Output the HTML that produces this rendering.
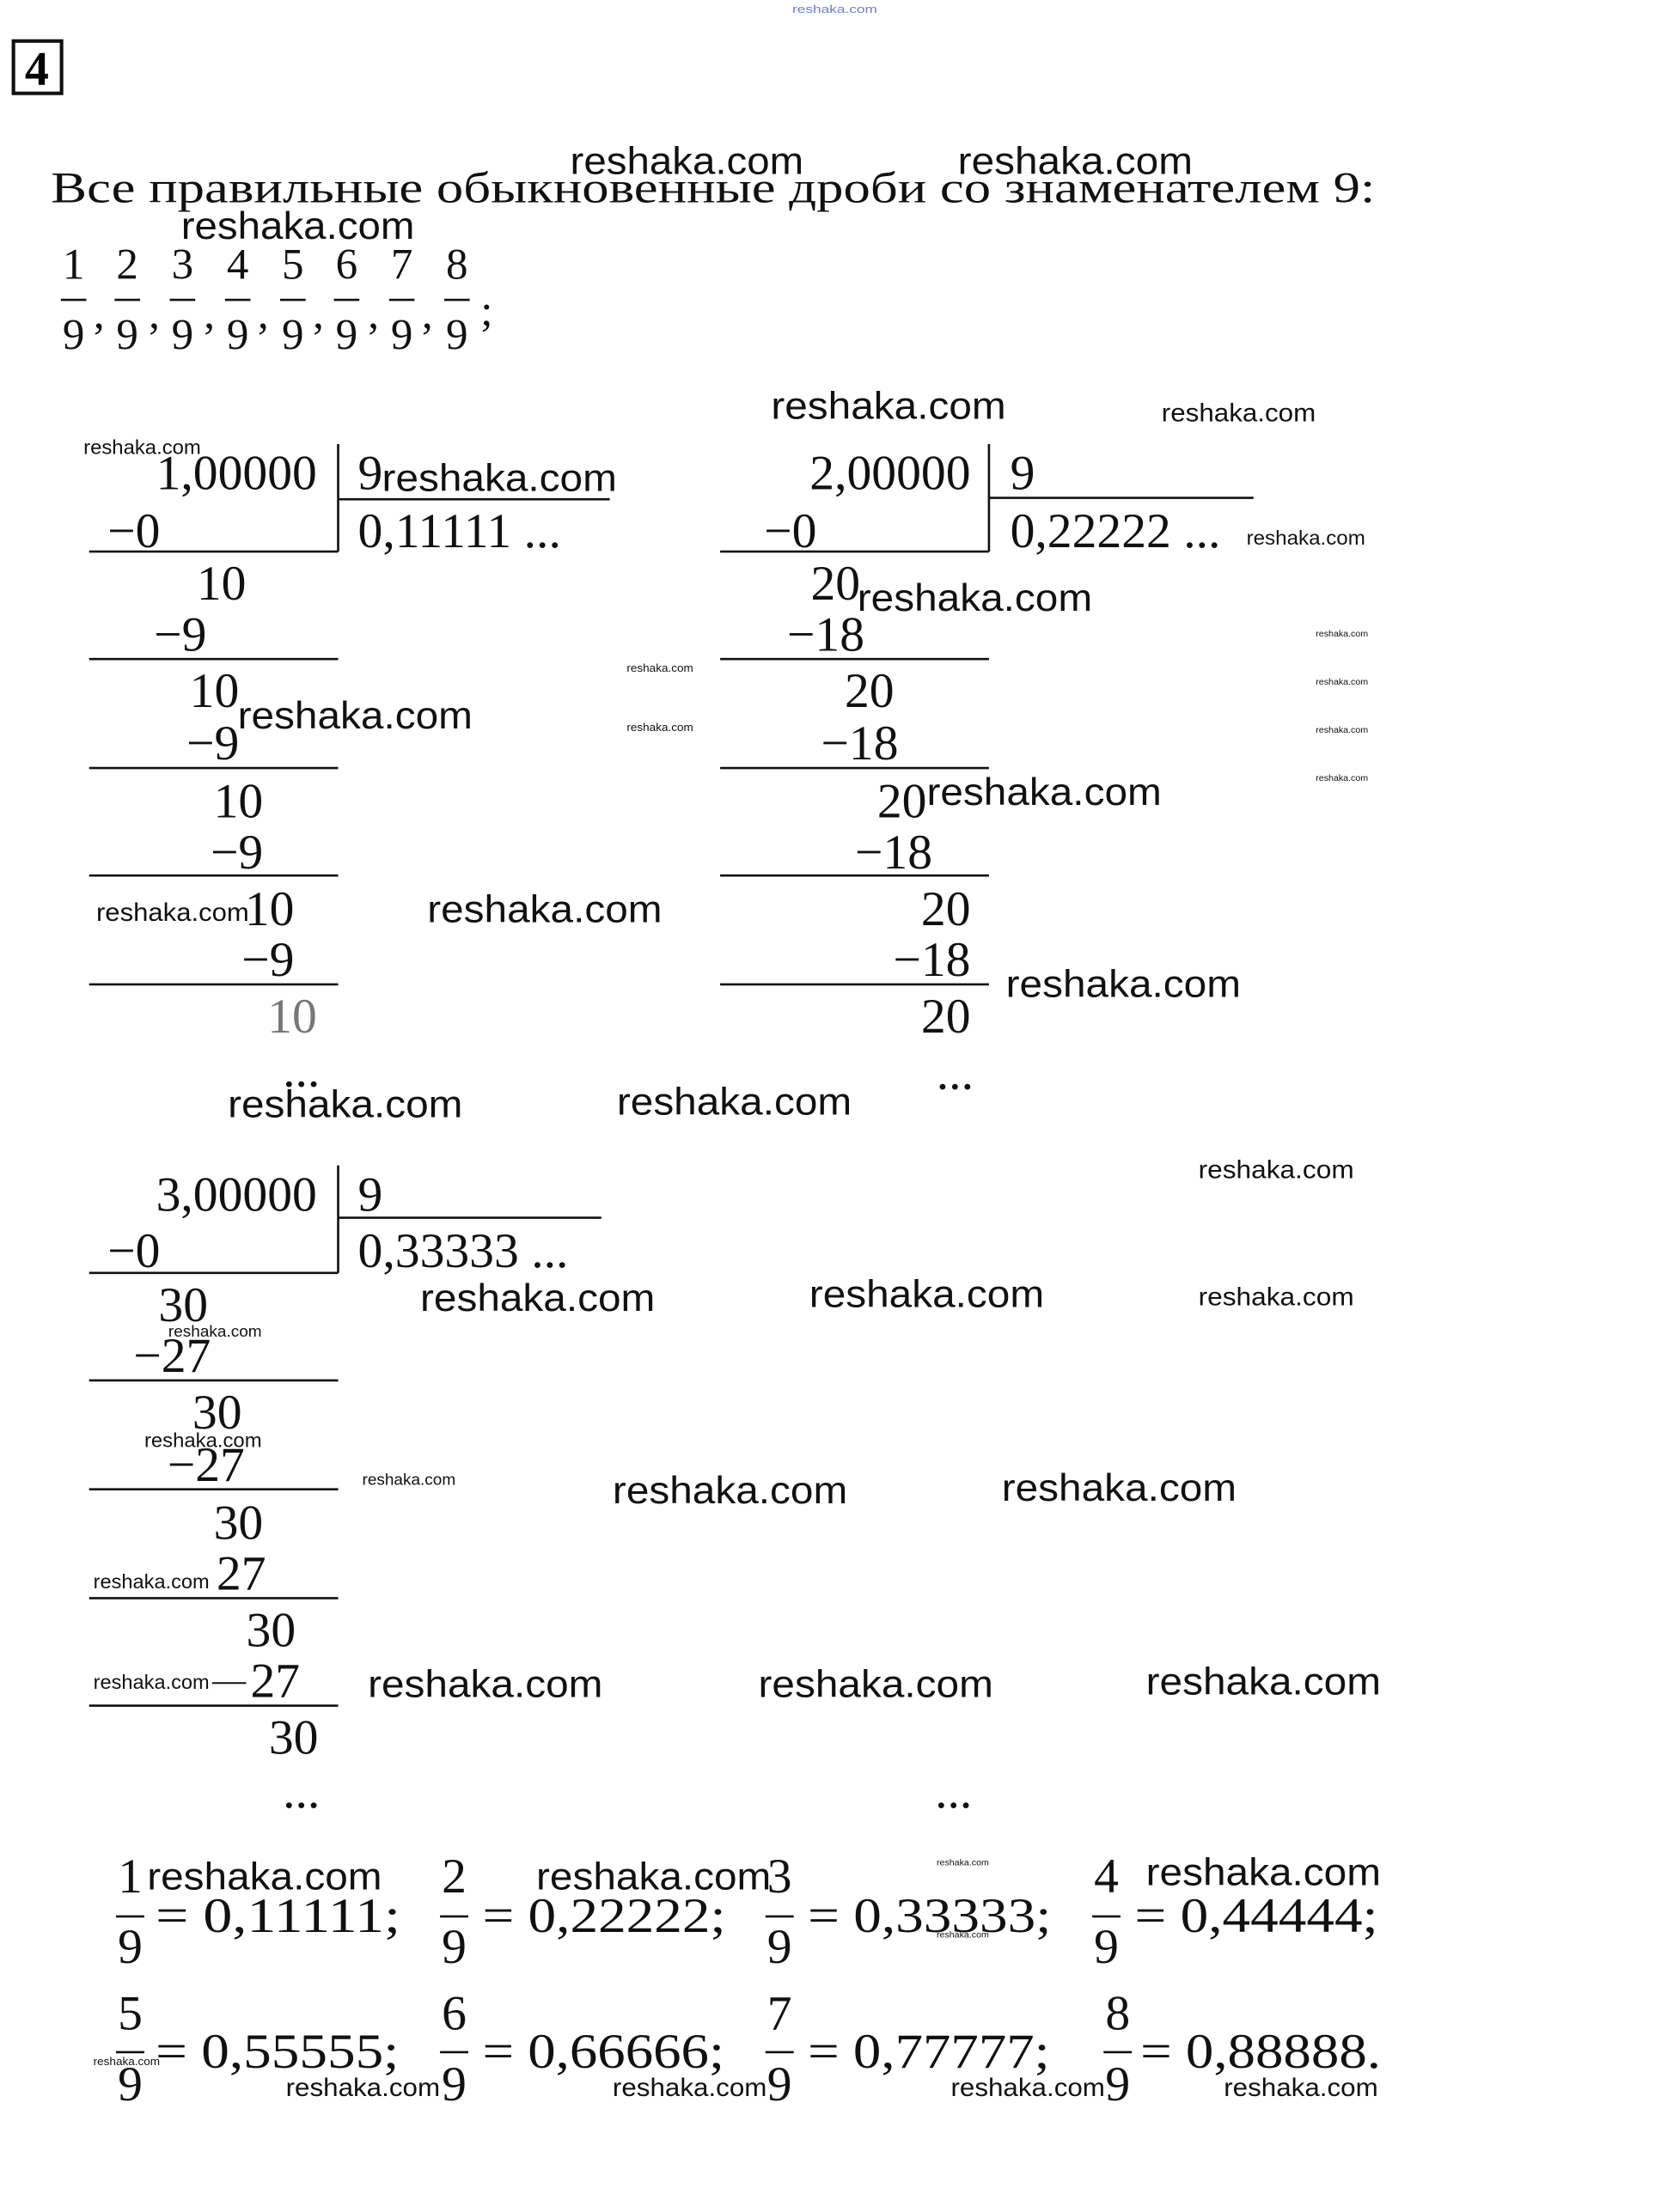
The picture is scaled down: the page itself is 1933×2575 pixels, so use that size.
<!DOCTYPE html>
<html><head><meta charset="utf-8"><style>
html,body{margin:0;padding:0;background:#fff;}
svg{display:block;}
.m{font-family:"Liberation Serif",serif;font-size:35px;fill:#111;}
.h{font-family:"Liberation Serif",serif;font-size:31px;fill:#111;}
.w{font-family:"Liberation Sans",sans-serif;fill:#111;}
line{stroke:#111;stroke-width:1.6;}
</style></head><body>
<svg width="1933" height="2575" viewBox="0 0 1174 1564" preserveAspectRatio="none" xmlns="http://www.w3.org/2000/svg">
<text x="560" y="9" class="w" style="font-size:8px;fill:#6a7fd0" textLength="60" lengthAdjust="spacingAndGlyphs">reshaka.com</text>
<rect x="9.5" y="29" width="34" height="37" fill="none" stroke="#111" stroke-width="2.5"/>
<text x="26" y="60" text-anchor="middle" style="font-family:'Liberation Serif',serif;font-weight:bold;font-size:34px">4</text>
<text x="36" y="143" class="h" textLength="936" lengthAdjust="spacingAndGlyphs">Все правильные обыкновенные дроби со знаменателем 9:</text>

<g class="m" style="font-size:31px" text-anchor="middle">
<text x="52" y="197">1</text><text x="90" y="197">2</text><text x="129" y="197">3</text><text x="168" y="197">4</text><text x="207" y="197">5</text><text x="245" y="197">6</text><text x="284" y="197">7</text><text x="323" y="197">8</text>
<text x="52" y="247">9</text><text x="90" y="247">9</text><text x="129" y="247">9</text><text x="168" y="247">9</text><text x="207" y="247">9</text><text x="245" y="247">9</text><text x="284" y="247">9</text><text x="323" y="247">9</text>
<text x="70" y="232">,</text><text x="109" y="232">,</text><text x="148" y="232">,</text><text x="186" y="232">,</text><text x="225" y="232">,</text><text x="264" y="232">,</text><text x="302" y="232">,</text><text x="344" y="230">;</text>
</g>
<g stroke="#111" stroke-width="2.5">
<line x1="43" y1="212" x2="61" y2="212"/><line x1="81" y1="212" x2="99" y2="212"/><line x1="120" y1="212" x2="138" y2="212"/><line x1="159" y1="212" x2="177" y2="212"/><line x1="198" y1="212" x2="216" y2="212"/><line x1="236" y1="212" x2="254" y2="212"/><line x1="275" y1="212" x2="293" y2="212"/><line x1="314" y1="212" x2="332" y2="212"/>
</g>

<!-- Division 1 -->
<g class="m">
<text x="224" y="346" text-anchor="end">1,00000</text>
<text x="253" y="346">9</text>
<text x="253" y="387">0,11111 ...</text>
<text x="76" y="387">−0</text>
<text x="174" y="424" text-anchor="end">10</text>
<text x="146" y="460" text-anchor="end">−9</text>
<text x="169" y="500" text-anchor="end">10</text>
<text x="169" y="537" text-anchor="end">−9</text>
<text x="186" y="578" text-anchor="end">10</text>
<text x="186" y="614" text-anchor="end">−9</text>
<text x="208" y="654" text-anchor="end">10</text>
<text x="208" y="690" text-anchor="end">−9</text>
<text x="224" y="730" text-anchor="end" style="fill:#777">10</text>
<text x="213" y="768" text-anchor="middle">...</text>
</g>
<line x1="239" y1="314" x2="239" y2="390"/><line x1="239" y1="353" x2="431" y2="353"/>
<line x1="63" y1="390" x2="239" y2="390"/><line x1="63" y1="466" x2="239" y2="466"/><line x1="63" y1="543" x2="239" y2="543"/><line x1="63" y1="619" x2="239" y2="619"/><line x1="63" y1="696" x2="239" y2="696"/>

<!-- Division 2 -->
<g class="m">
<text x="686" y="346" text-anchor="end">2,00000</text>
<text x="714" y="346">9</text>
<text x="714" y="387">0,22222 ...</text>
<text x="540" y="387">−0</text>
<text x="608" y="424" text-anchor="end">20</text>
<text x="611" y="460" text-anchor="end">−18</text>
<text x="632" y="500" text-anchor="end">20</text>
<text x="635" y="537" text-anchor="end">−18</text>
<text x="655" y="578" text-anchor="end">20</text>
<text x="659" y="614" text-anchor="end">−18</text>
<text x="686" y="654" text-anchor="end">20</text>
<text x="686" y="690" text-anchor="end">−18</text>
<text x="686" y="730" text-anchor="end">20</text>
<text x="675" y="770" text-anchor="middle">...</text>
</g>
<line x1="699" y1="314" x2="699" y2="390"/><line x1="699" y1="352" x2="886" y2="352"/>
<line x1="509" y1="390" x2="699" y2="390"/><line x1="509" y1="466" x2="699" y2="466"/><line x1="509" y1="543" x2="699" y2="543"/><line x1="509" y1="619" x2="699" y2="619"/><line x1="509" y1="696" x2="699" y2="696"/>

<!-- Division 3 -->
<g class="m">
<text x="224" y="856" text-anchor="end">3,00000</text>
<text x="253" y="856">9</text>
<text x="253" y="896">0,33333 ...</text>
<text x="76" y="896">−0</text>
<text x="147" y="934" text-anchor="end">30</text>
<text x="149" y="970" text-anchor="end">−27</text>
<text x="171" y="1010" text-anchor="end">30</text>
<text x="173" y="1047" text-anchor="end">−27</text>
<text x="186" y="1088" text-anchor="end">30</text>
<text x="188" y="1124" text-anchor="end">27</text>
<text x="209" y="1164" text-anchor="end">30</text>
<text x="212" y="1200" text-anchor="end">27</text>
<text x="225" y="1240" text-anchor="end">30</text>
<text x="213" y="1278" text-anchor="middle">...</text>
<text x="674" y="1278" text-anchor="middle">...</text>
</g>
<line x1="239" y1="824" x2="239" y2="900"/><line x1="239" y1="861" x2="425" y2="861"/>
<line x1="63" y1="900" x2="239" y2="900"/><line x1="63" y1="976" x2="239" y2="976"/><line x1="63" y1="1053" x2="239" y2="1053"/><line x1="63" y1="1130" x2="239" y2="1130"/><line x1="63" y1="1206" x2="239" y2="1206"/>
<line x1="150" y1="1190" x2="174" y2="1190" style="stroke-width:1.2"/>

<!-- Results -->
<g class="m">
<text x="92" y="1338" text-anchor="middle">1</text><text x="92" y="1388" text-anchor="middle">9</text><text x="110" y="1366" textLength="173" lengthAdjust="spacingAndGlyphs">= 0,11111;</text>
<text x="321" y="1338" text-anchor="middle">2</text><text x="321" y="1388" text-anchor="middle">9</text><text x="341" y="1366" textLength="172" lengthAdjust="spacingAndGlyphs">= 0,22222;</text>
<text x="551" y="1338" text-anchor="middle">3</text><text x="551" y="1388" text-anchor="middle">9</text><text x="571" y="1366" textLength="172" lengthAdjust="spacingAndGlyphs">= 0,33333;</text>
<text x="782" y="1338" text-anchor="middle">4</text><text x="782" y="1388" text-anchor="middle">9</text><text x="802" y="1366" textLength="172" lengthAdjust="spacingAndGlyphs">= 0,44444;</text>
<text x="92" y="1435" text-anchor="middle">5</text><text x="92" y="1485" text-anchor="middle">9</text><text x="110" y="1462" textLength="172" lengthAdjust="spacingAndGlyphs">= 0,55555;</text>
<text x="321" y="1435" text-anchor="middle">6</text><text x="321" y="1485" text-anchor="middle">9</text><text x="341" y="1462" textLength="171" lengthAdjust="spacingAndGlyphs">= 0,66666;</text>
<text x="551" y="1435" text-anchor="middle">7</text><text x="551" y="1485" text-anchor="middle">9</text><text x="571" y="1462" textLength="171" lengthAdjust="spacingAndGlyphs">= 0,77777;</text>
<text x="790" y="1435" text-anchor="middle">8</text><text x="790" y="1485" text-anchor="middle">9</text><text x="806" y="1462" textLength="170" lengthAdjust="spacingAndGlyphs">= 0,88888.</text>
</g>
<g stroke="#111" stroke-width="2.6">
<line x1="82" y1="1355" x2="102" y2="1355"/><line x1="311" y1="1355" x2="331" y2="1355"/><line x1="541" y1="1355" x2="561" y2="1355"/><line x1="772" y1="1355" x2="792" y2="1355"/>
<line x1="82" y1="1451" x2="102" y2="1451"/><line x1="311" y1="1451" x2="331" y2="1451"/><line x1="541" y1="1451" x2="561" y2="1451"/><line x1="780" y1="1451" x2="800" y2="1451"/>
</g>

<!-- Watermarks -->
<g class="w">
<g style="font-size:27px">
<text x="403" y="123" textLength="165" lengthAdjust="spacingAndGlyphs">reshaka.com</text>
<text x="677" y="123" textLength="166" lengthAdjust="spacingAndGlyphs">reshaka.com</text>
<text x="128" y="169" textLength="165" lengthAdjust="spacingAndGlyphs">reshaka.com</text>
<text x="545" y="296" textLength="166" lengthAdjust="spacingAndGlyphs">reshaka.com</text>
<text x="270" y="347" textLength="166" lengthAdjust="spacingAndGlyphs">reshaka.com</text>
<text x="606" y="432" textLength="166" lengthAdjust="spacingAndGlyphs">reshaka.com</text>
<text x="168" y="515" textLength="166" lengthAdjust="spacingAndGlyphs">reshaka.com</text>
<text x="655" y="569" textLength="166" lengthAdjust="spacingAndGlyphs">reshaka.com</text>
<text x="302" y="652" textLength="166" lengthAdjust="spacingAndGlyphs">reshaka.com</text>
<text x="711" y="705" textLength="166" lengthAdjust="spacingAndGlyphs">reshaka.com</text>
<text x="161" y="790" textLength="166" lengthAdjust="spacingAndGlyphs">reshaka.com</text>
<text x="436" y="788" textLength="166" lengthAdjust="spacingAndGlyphs">reshaka.com</text>
<text x="297" y="927" textLength="166" lengthAdjust="spacingAndGlyphs">reshaka.com</text>
<text x="572" y="924" textLength="166" lengthAdjust="spacingAndGlyphs">reshaka.com</text>
<text x="433" y="1063" textLength="166" lengthAdjust="spacingAndGlyphs">reshaka.com</text>
<text x="708" y="1061" textLength="166" lengthAdjust="spacingAndGlyphs">reshaka.com</text>
<text x="260" y="1200" textLength="166" lengthAdjust="spacingAndGlyphs">reshaka.com</text>
<text x="536" y="1200" textLength="166" lengthAdjust="spacingAndGlyphs">reshaka.com</text>
<text x="810" y="1198" textLength="166" lengthAdjust="spacingAndGlyphs">reshaka.com</text>
<text x="104" y="1336" textLength="166" lengthAdjust="spacingAndGlyphs">reshaka.com</text>
<text x="379" y="1336" textLength="166" lengthAdjust="spacingAndGlyphs">reshaka.com</text>
<text x="810" y="1333" textLength="166" lengthAdjust="spacingAndGlyphs">reshaka.com</text>
</g>
<g style="font-size:18px">
<text x="821" y="298" textLength="109" lengthAdjust="spacingAndGlyphs">reshaka.com</text>
<text x="68" y="651" textLength="108" lengthAdjust="spacingAndGlyphs">reshaka.com</text>
<text x="847" y="833" textLength="110" lengthAdjust="spacingAndGlyphs">reshaka.com</text>
<text x="847" y="923" textLength="110" lengthAdjust="spacingAndGlyphs">reshaka.com</text>
<text x="202" y="1482" textLength="109" lengthAdjust="spacingAndGlyphs">reshaka.com</text>
<text x="433" y="1482" textLength="109" lengthAdjust="spacingAndGlyphs">reshaka.com</text>
<text x="672" y="1482" textLength="109" lengthAdjust="spacingAndGlyphs">reshaka.com</text>
<text x="865" y="1482" textLength="109" lengthAdjust="spacingAndGlyphs">reshaka.com</text>
</g>
<g style="font-size:14px">
<text x="59" y="321" textLength="83" lengthAdjust="spacingAndGlyphs">reshaka.com</text>
<text x="881" y="385" textLength="84" lengthAdjust="spacingAndGlyphs">reshaka.com</text>
<text x="102" y="1023" textLength="83" lengthAdjust="spacingAndGlyphs">reshaka.com</text>
<text x="66" y="1123" textLength="82" lengthAdjust="spacingAndGlyphs">reshaka.com</text>
<text x="66" y="1194" textLength="82" lengthAdjust="spacingAndGlyphs">reshaka.com</text>
</g>
<g style="font-size:11px">
<text x="119" y="945" textLength="66" lengthAdjust="spacingAndGlyphs">reshaka.com</text>
<text x="256" y="1050" textLength="66" lengthAdjust="spacingAndGlyphs">reshaka.com</text>
</g>
<g style="font-size:8px">
<text x="443" y="475" textLength="47" lengthAdjust="spacingAndGlyphs">reshaka.com</text>
<text x="443" y="517" textLength="47" lengthAdjust="spacingAndGlyphs">reshaka.com</text>
<text x="66" y="1460" textLength="47" lengthAdjust="spacingAndGlyphs">reshaka.com</text>
</g>
<g style="font-size:6px">
<text x="930" y="450" textLength="37" lengthAdjust="spacingAndGlyphs">reshaka.com</text>
<text x="930" y="484" textLength="37" lengthAdjust="spacingAndGlyphs">reshaka.com</text>
<text x="930" y="518" textLength="37" lengthAdjust="spacingAndGlyphs">reshaka.com</text>
<text x="930" y="552" textLength="37" lengthAdjust="spacingAndGlyphs">reshaka.com</text>
<text x="662" y="1319" textLength="37" lengthAdjust="spacingAndGlyphs">reshaka.com</text>
<text x="662" y="1370" textLength="37" lengthAdjust="spacingAndGlyphs">reshaka.com</text>
</g>
</g>
</svg>
</body></html>
